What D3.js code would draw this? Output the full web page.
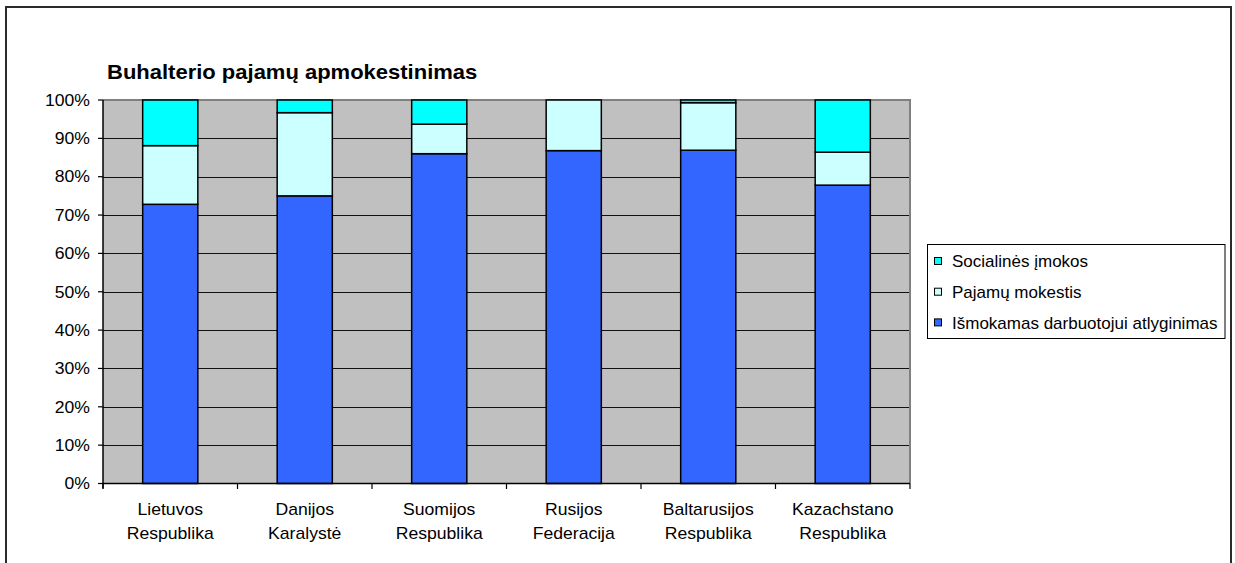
<!DOCTYPE html>
<html>
<head>
<meta charset="utf-8">
<script src="https://cdn.jsdelivr.net/npm/d3@7"></script>
<style>
  html, body { margin: 0; padding: 0; background: #fff; }
  svg { display: block; }
  text { font-family: "Liberation Sans", Arial, sans-serif; fill: #000; }
</style>
</head>
<body>
<svg id="chart" width="1235" height="563"></svg>
<script>
// Categories (two-line labels) and the stacked percentage shares
const countries = [
  ["Lietuvos", "Respublika"],
  ["Danijos", "Karalystė"],
  ["Suomijos", "Respublika"],
  ["Rusijos", "Federacija"],
  ["Baltarusijos", "Respublika"],
  ["Kazachstano", "Respublika"]
];
const seriesNames = ["Išmokamas darbuotojui atlyginimas", "Pajamų mokestis", "Socialinės įmokos"];
const netPay     = [72.8, 75.0, 86.0, 86.8, 86.9, 77.8];
const incomeTax  = [15.3, 21.7, 7.7, 13.2, 12.4, 8.6];
const social     = [11.9, 3.3, 6.3, 0.0, 0.7, 13.6];
const yTicks = [0, 10, 20, 30, 40, 50, 60, 70, 80, 90, 100];
const seriesColors = ["#3366FF", "#CCFFFF", "#00FFFF"];
const titleText = "Buhalterio pajamų apmokestinimas";

const svg = d3.select("#chart");
const plot = { left: 103, right: 910, top: 100, bottom: 483.5 };
const SX = 1.1; // horizontal widening of axis text

// Outer chart frame
svg.append("rect")
  .attr("x", 6).attr("y", 7).attr("width", 1225).attr("height", 600)
  .attr("fill", "#fff").attr("stroke", "#2b2b2b").attr("stroke-width", 2);

const x = d3.scaleBand()
  .domain(d3.range(countries.length))
  .range([plot.left, plot.right])
  .paddingInner(0.59).paddingOuter(0.295);
const xCat = d3.scaleBand()
  .domain(d3.range(countries.length))
  .range([plot.left, plot.right]);
const y = d3.scaleLinear().domain([0, 100]).range([plot.bottom, plot.top]);

// Plot background
svg.append("rect")
  .attr("x", plot.left).attr("y", plot.top)
  .attr("width", plot.right - plot.left).attr("height", plot.bottom - plot.top)
  .attr("fill", "#C0C0C0");

// Horizontal gridlines
svg.append("g").selectAll("line").data(yTicks.filter(t => t > 0 && t < 100)).join("line")
  .attr("x1", plot.left).attr("x2", plot.right)
  .attr("y1", d => Math.round(y(d)) + 0.5).attr("y2", d => Math.round(y(d)) + 0.5)
  .attr("stroke", "#111").attr("stroke-width", 1);

// Plot border (top and right)
svg.append("path")
  .attr("d", `M${plot.left},${plot.top} H${plot.right} V${plot.bottom}`)
  .attr("fill", "none").attr("stroke", "#808080").attr("stroke-width", 2);

// Stacked bars
const rows = countries.map((c, i) => ({ i, v: [netPay[i], incomeTax[i], social[i]] }));
const stackData = d3.stack().keys([0, 1, 2]).value((d, k) => d.v[k])(rows);
svg.append("g").selectAll("g").data(stackData).join("g")
  .attr("fill", (d, k) => seriesColors[k])
  .selectAll("rect").data(d => d.filter(s => s[1] - s[0] > 0)).join("rect")
  .attr("x", d => x(d.data.i))
  .attr("width", x.bandwidth())
  .attr("y", d => y(d[1]))
  .attr("height", d => y(d[0]) - y(d[1]))
  .attr("stroke", "#000").attr("stroke-width", 1.5);

// Y axis
const yAxis = svg.append("g");
yAxis.append("line")
  .attr("x1", plot.left).attr("x2", plot.left)
  .attr("y1", plot.top).attr("y2", plot.bottom + 5)
  .attr("stroke", "#000").attr("stroke-width", 1.5);
yAxis.selectAll("line.tick").data(yTicks).join("line").attr("class", "tick")
  .attr("x1", plot.left - 5).attr("x2", plot.left)
  .attr("y1", d => y(d)).attr("y2", d => y(d))
  .attr("stroke", "#000").attr("stroke-width", 1.2);
yAxis.selectAll("text").data(yTicks).join("text")
  .attr("transform", d => `translate(90,${y(d)}) scale(${SX},1)`)
  .attr("dy", "0.36em")
  .attr("text-anchor", "end")
  .attr("font-size", 16)
  .text(d => d + "%");

// X axis
const xAxis = svg.append("g");
xAxis.append("line")
  .attr("x1", plot.left).attr("x2", plot.right)
  .attr("y1", plot.bottom).attr("y2", plot.bottom)
  .attr("stroke", "#000").attr("stroke-width", 1.5);
const boundaries = d3.range(countries.length + 1).map(i => i < countries.length ? xCat(i) : plot.right);
xAxis.selectAll("line.tick").data(boundaries).join("line").attr("class", "tick")
  .attr("x1", d => d).attr("x2", d => d)
  .attr("y1", plot.bottom).attr("y2", plot.bottom + 5.5)
  .attr("stroke", "#000").attr("stroke-width", 1.2);
const labels = xAxis.selectAll("g.lab").data(countries).join("g").attr("class", "lab");
labels.each(function (lines, i) {
  const cx = xCat(i) + xCat.bandwidth() / 2;
  lines.forEach((t, k) => {
    d3.select(this).append("text")
      .attr("transform", `translate(${cx},${515 + k * 23.5}) scale(${SX},1)`)
      .attr("text-anchor", "middle")
      .attr("font-size", 16)
      .text(t);
  });
});

// Title
svg.append("text")
  .attr("transform", `translate(107,79) scale(${SX},1)`)
  .attr("font-size", 20)
  .attr("font-weight", "bold")
  .text(titleText);

// Legend (top entry is the top segment)
const legend = svg.append("g");
legend.append("rect")
  .attr("x", 927.5).attr("y", 244.5).attr("width", 297.5).attr("height", 94)
  .attr("fill", "#fff").attr("stroke", "#000").attr("stroke-width", 1);
const legendOrder = [2, 1, 0];
legendOrder.forEach((k, r) => {
  const cy = 261 + r * 30.7;
  legend.append("rect")
    .attr("x", 934.5).attr("y", cy - 3.5).attr("width", 7).attr("height", 7)
    .attr("fill", seriesColors[k]).attr("stroke", "#000").attr("stroke-width", 1);
  legend.append("text")
    .attr("x", 952).attr("y", cy).attr("dy", "0.36em")
    .attr("font-size", 17)
    .text(seriesNames[k]);
});
</script>
</body>
</html>
